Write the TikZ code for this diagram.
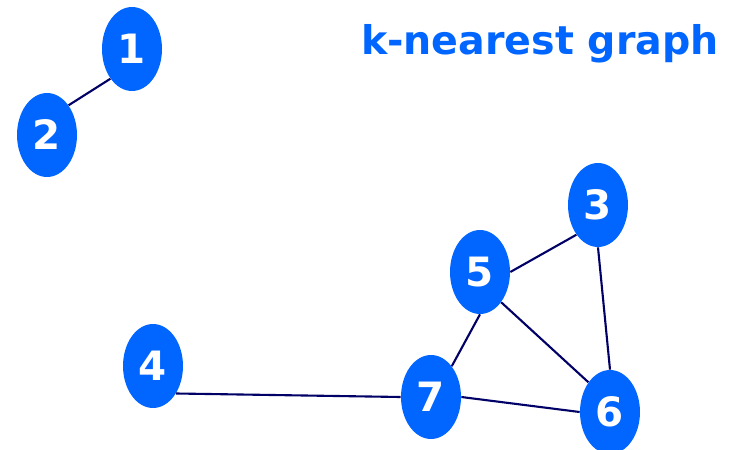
\documentclass[tikz,border=0pt]{standalone}
\usepackage{fontspec}
\setmainfont{DejaVu Sans}
\usetikzlibrary{shapes.geometric}
\definecolor{nodeblue}{HTML}{0066FF}
\definecolor{edgenavy}{HTML}{000066}
\begin{document}
\begin{tikzpicture}[x=0.02cm,y=-0.02cm,
  vertex/.style={ellipse,fill=nodeblue,text=white,inner sep=0pt,minimum width=1.2cm,minimum height=1.68cm,font=\bfseries\fontsize{23}{23}\selectfont},
  link/.style={color=edgenavy,line width=1.2pt}]
\useasboundingbox(0,0)rectangle(735,450);
\node[text=nodeblue,font=\bfseries\fontsize{22.5}{22.5}\selectfont,anchor=base](title)at(540,54){k-nearest graph};
\node[vertex](n1)at(132,49){1};
\node[vertex](n2)at(47,135){2};
\node[vertex](n3)at(598,205){3};
\node[vertex](n4)at(153,366){4};
\node[vertex](n5)at(480,272){5};
\node[vertex](n6)at(610,412){6};
\node[vertex](n7)at(431,397){7};
\draw[link](n1.234)--(n2.54);
\draw[link](n3.234)--(n5.east);
\draw[link](n3.south)--(n6.north);
\draw[link](n5.-55)--(n6.126);
\draw[link](n5.south)--(n7.56);
\draw[link](n7.east)--(n6.west);
\draw[link](n4.-50)--(n7.west);
\end{tikzpicture}
\end{document}
